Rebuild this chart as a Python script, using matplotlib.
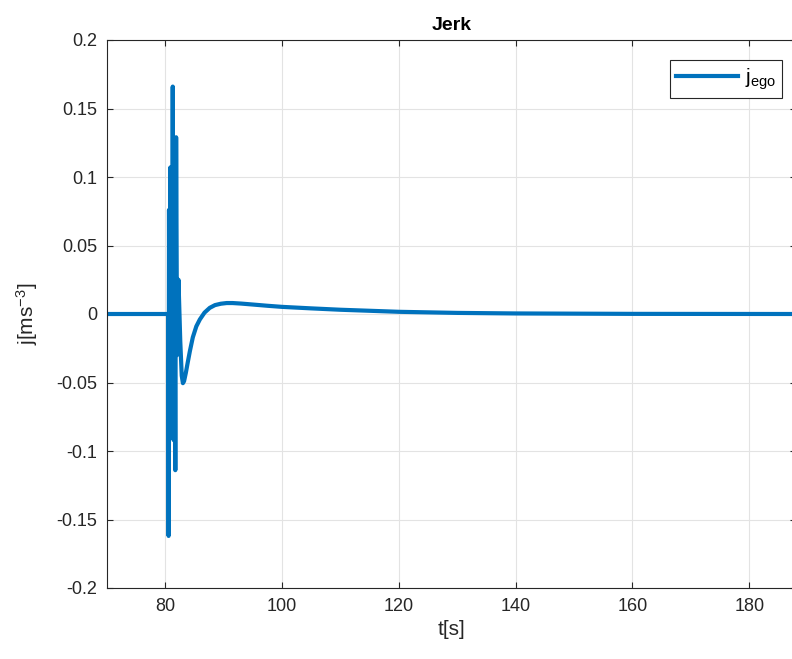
import matplotlib
matplotlib.use("Agg")
import matplotlib.pyplot as plt
from matplotlib.ticker import FuncFormatter

plt.rcParams['font.family'] = ['Liberation Sans', 'DejaVu Sans']
plt.rcParams['axes.unicode_minus'] = False
plt.rcParams['mathtext.fontset'] = 'custom'
plt.rcParams['mathtext.rm'] = 'Liberation Sans'
plt.rcParams['mathtext.it'] = 'Liberation Sans'

t = [70.0, 80.4, 80.5, 80.55, 80.62, 80.7, 80.85, 80.95, 81.05, 81.15, 81.26, 81.4, 81.55,
     81.7, 81.84, 82.0, 82.24, 82.55, 82.8, 83.0, 83.2, 83.5, 83.8, 84.2, 84.7, 85.3,
     85.9, 86.7, 87.6, 88.5, 89.5, 90.5, 91.5, 93.0, 95.0, 97.5, 100.0, 105.0, 110.0,
     120.0, 130.0, 140.0, 160.0, 188.0]
j = [0.0, 0.0, 0.0, -0.162, 0.076, -0.072, 0.107, -0.02, 0.09, -0.06, 0.166, -0.092, 0.05,
     -0.114, 0.129, -0.03, 0.025, -0.02, -0.045, -0.0505, -0.049, -0.043, -0.036, -0.027,
     -0.017, -0.009, -0.004, 0.001, 0.0045, 0.0065, 0.0075, 0.008, 0.008, 0.0076, 0.0069,
     0.006, 0.0052, 0.0041, 0.0031, 0.0016, 0.0008, 0.0004, 0.0001, 0.0]

xticks = [80, 100, 120, 140, 160, 180]
yticks = [-0.2, -0.15, -0.1, -0.05, 0, 0.05, 0.1, 0.15, 0.2]

fig = plt.figure(figsize=(7.92, 6.59), dpi=100)
ax = fig.add_axes([107/792, 1-588/659, 1.005-107/792, (588-40)/659])
ax.plot(t, j, color='#0072BD', linewidth=3, label=r'$\mathregular{j_{ego}}$')
ax.set_xlim(70, 188)
ax.set_ylim(-0.2, 0.2)
ax.set_xticks(xticks)
ax.set_yticks(yticks)
ax.yaxis.set_major_formatter(FuncFormatter(lambda v, p: '%g' % round(v, 3)))
ax.grid(True, color='#e3e3e3', linewidth=0.8)
ax.set_axisbelow(True)
for s in ax.spines.values():
    s.set_color('#262626')
    s.set_linewidth(0.8)
ax.tick_params(direction='in', labelsize=13, colors='#262626', length=4, width=0.8,
               top=True, right=True, pad=7)
ax.set_title('Jerk', fontsize=14, fontweight='bold', color='#000000', pad=7)
ax.set_xlabel('t[s]', fontsize=15, color='#262626', labelpad=4)
ax.set_ylabel(r'$\mathregular{j[ms^{-3}]}$', fontsize=15, color='#262626', labelpad=12)
leg = ax.legend(loc='upper right', bbox_to_anchor=(782/792, 1-60/659),
                bbox_transform=fig.transFigure, fontsize=15, fancybox=False,
                edgecolor='#262626', framealpha=1, handlelength=3.0, borderpad=0.3,
                handletextpad=0.3, borderaxespad=0.0)
leg.get_frame().set_linewidth(0.8)
fig.savefig('out.png', dpi=100)
